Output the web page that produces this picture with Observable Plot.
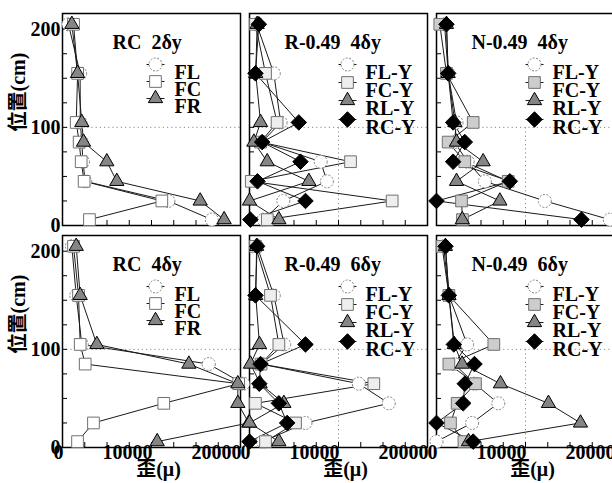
<!DOCTYPE html>
<html>
<head>
<meta charset="utf-8">
<script src="https://cdn.jsdelivr.net/npm/d3@7"></script>
<script src="https://cdn.jsdelivr.net/npm/@observablehq/plot@0.6"></script>
<style>
html, body { margin: 0; padding: 0; background: #fff; overflow: hidden; }
#chart { position: relative; width: 612px; height: 483px; overflow: hidden; }
svg text { white-space: pre; }
</style>
</head>
<body>
<div id="chart"></div>
<script>
// ---- data ----
const heights = [205, 155, 105, 85, 65, 45, 25, 6]; // cm
const xTicks = [0, 2500, 5000, 7500, 10000, 12500, 15000, 17500, 20000];
const xTickLabels = [0, 10000, 20000];
const yTicks = [0, 25, 50, 75, 100, 125, 150, 175, 200];
const yTickLabels = [0, 100, 200];
const gridX = [10000];
const gridY = [100];
const titles = ["RC  2δy", "R-0.49  4δy", "N-0.49  4δy", "RC  4δy", "R-0.49  6δy", "N-0.49  6δy"];
const rcLabels = ["FL", "FC", "FR"];
const yLabels = ["FL-Y", "FC-Y", "RL-Y", "RC-Y"];
const yTitle = "位置(cm)";
const xTitle = "歪(μ)";

// RC 2δy
const rc2FL = [670, 1980, 2000, 2170, 2300, 2550, 11900, 16780];
const rc2FC = [1240, 1700, 1540, 1870, 2100, 2430, 11160, 3030];
const rc2FR = [1050, 1690, 2170, 2360, 4980, 6100, 15470, 18160];
// R-0.49 4δy
const r4FLY = [800, 2730, 3500, 1400, 8000, 8700, 3800, 1600];
const r4FCY = [670, 1800, 3100, 1240, 11350, 200, 16030, 2000];
const r4RLY = [860, 700, 1240, 490, 1990, 6670, 0, 3300];
const r4RCY = [1050, 670, 5540, 1420, 5730, 900, 6290, 100];
// N-0.49 4δy
const n4FLY = [900, 1310, 2250, 2000, 3500, 5430, 12170, 19470];
const n4FCY = [370, 1120, 4120, 1310, 3180, 8050, 2810, 2920];
const n4RLY = [1120, 1310, 2060, 2250, 5240, 2250, 7120, 2900];
const n4RCY = [1120, 1310, 1870, 3180, 1870, 8240, 0, 16290];
// RC 4δy
const rc4FL = [1050, 1540, 2170, 16440, 20300, null, null, null];
const rc4FC = [1240, 1800, 1990, 2550, 19800, 11380, 3480, 1690];
const rc4FR = [1540, 1985, 3860, 14200, 19700, 19700, 20930, 10640];
// R-0.49 6δy
const r6FLY = [860, 2730, 3900, 1300, 12280, 15650, 6290, 1500];
const r6FCY = [670, 2360, 3300, 1300, 13970, 670, 5170, 1800];
const r6RLY = [800, 700, 1120, 110, 1200, 3860, 0, 3300];
const r6RCY = [860, 670, 6290, 1240, 1100, 3300, 4230, 0];
// N-0.49 6δy
const n6FLY = [800, 1400, 3440, 2000, 4300, 6940, 4000, 0];
const n6FCY = [630, 1390, 6440, 1390, 4380, 2320, 1570, 3080];
const n6RLY = [1000, 1400, 2000, 2880, 7190, 12580, 16180, 3600];
const n6RCY = [1010, 1390, 1950, 4270, 3180, 3000, 0, 4120];

// ---- build tables ----
const panels = [
  {col: 0, row: 0, kind: "RC", title: titles[0], series: [rc2FL, rc2FC, rc2FR]},
  {col: 1, row: 0, kind: "Y",  title: titles[1], series: [r4FLY, r4FCY, r4RLY, r4RCY]},
  {col: 2, row: 0, kind: "Y",  title: titles[2], series: [n4FLY, n4FCY, n4RLY, n4RCY]},
  {col: 0, row: 1, kind: "RC", title: titles[3], series: [rc4FL, rc4FC, rc4FR]},
  {col: 1, row: 1, kind: "Y",  title: titles[4], series: [r6FLY, r6FCY, r6RLY, r6RCY]},
  {col: 2, row: 1, kind: "Y",  title: titles[5], series: [n6FLY, n6FCY, n6RLY, n6RCY]}
];
const data = panels.flatMap(p => p.series.flatMap((vals, s) =>
  vals.map((v, i) => ({col: p.col, row: p.row, s, h: heights[i], v})).filter(d => d.v != null)));

const fcFill = ["#ffffff", "#eeeeee", "#cdcdcd"];
const symStyles = [
  {symbol: "circle", r: 6.5, fill: "#ffffff", stroke: "#808080", strokeDasharray: "2,1.5", strokeWidth: 1},
  {symbol: "square", r: 6.6, fill: d => fcFill[d.col], stroke: "#707070", strokeWidth: 1},
  {symbol: "triangle", r: 5.3, fill: "#858585", stroke: "#000000", strokeWidth: 1},
  {symbol: "diamond2", r: 7, fill: "#000000", stroke: "#000000", strokeWidth: 1}
];
const legendLine = {draw(ctx) { ctx.moveTo(-9, 0); ctx.lineTo(9, 0); }};

const F = {fx: "col", fy: "row"};
const txt = {fontSize: 20, fontWeight: "bold", fill: "#000", fontFamily: "'Liberation Serif','Noto Sans CJK JP',serif"};

const gridXData = panels.filter(p => p.kind === "Y").map(p => ({col: p.col, row: p.row, x: gridX[0]}));
const xLabelData = [0, 1, 2].flatMap(col => xTickLabels.map(v => ({col, row: 1, v})));
const yLabelData = [0, 1].flatMap(row => yTickLabels.map(v => ({col: 0, row, v})));
const yTitleData = [0, 1].map(row => ({col: 0, row}));
const xTitleData = [0, 1, 2].map(col => ({col, row: 1}));

const marks = [
  Plot.ruleY(gridY, {stroke: "#8a8a8a", strokeDasharray: "1.2,3"}),
  Plot.ruleX(gridXData, {x: "x", y1: 0, y2: gridY[0], ...F, stroke: "#8a8a8a", strokeDasharray: "1.2,3"}),
  Plot.ruleX(xTicks, {insetTop: 207, stroke: "#000", strokeWidth: 1}),
  Plot.ruleY(yTicks, {insetRight: 173, stroke: "#000", strokeWidth: 1}),
  Plot.frame({stroke: "#000", strokeWidth: 1.5}),
  Plot.line(data, {x: "v", y: "h", z: d => `${d.col}-${d.row}-${d.s}`, ...F, stroke: "#1a1a1a", strokeWidth: 1})
];
for (let s = 0; s < 4; s++) {
  marks.push(Plot.dot(data.filter(d => d.s === s), {x: "v", y: "h", ...F, ...symStyles[s]}));
}
// panel titles
marks.push(Plot.text(panels.filter(p => p.kind === "RC"), {...F, text: "title", frameAnchor: "top-left", textAnchor: "start", dx: 50, dy: 21, ...txt}));
marks.push(Plot.text(panels.filter(p => p.kind === "Y"), {...F, text: "title", frameAnchor: "top-left", textAnchor: "start", dx: 35, dy: 21, ...txt}));
// legends
const legendGroups = [
  {kind: "RC", labels: rcLabels, mx: 93, tx: 112, rows: [51, 68, 85]},
  {kind: "Y", labels: yLabels, mx: 98, tx: 116, rows: [51, 69, 87, 106]}
];
for (const g of legendGroups) {
  const gp = panels.filter(p => p.kind === g.kind);
  g.labels.forEach((lab, s) => {
    marks.push(Plot.dot(gp, {...F, frameAnchor: "top-left", dx: g.mx, dy: g.rows[s], symbol: legendLine, fill: "none", stroke: "#1a1a1a", strokeWidth: 1}));
    marks.push(Plot.dot(gp, {...F, frameAnchor: "top-left", dx: g.mx, dy: g.rows[s], ...symStyles[s]}));
    marks.push(Plot.text(gp, {...F, frameAnchor: "top-left", dx: g.tx, dy: g.rows[s], text: () => lab, textAnchor: "start", ...txt}));
  });
}
// axis labels
marks.push(Plot.text(xLabelData, {x: "v", ...F, text: d => String(d.v), frameAnchor: "bottom", textAnchor: "end", dx: 1, dy: 11, ...txt}));
marks.push(Plot.text(yLabelData, {y: "v", ...F, text: d => String(d.v), frameAnchor: "left", textAnchor: "end", dx: -2, ...txt}));
marks.push(Plot.text(yTitleData, {...F, text: () => yTitle, frameAnchor: "left", rotate: -90, dx: -44, dy: 12, ...txt}));
marks.push(Plot.text(xTitleData, {...F, text: () => xTitle, frameAnchor: "bottom", dx: 7, dy: 28, ...txt}));

const chart = Plot.plot({
  width: 614,
  height: 483,
  marginLeft: 62,
  marginRight: 0,
  marginTop: 13,
  marginBottom: 36,
  fx: {domain: [0, 1, 2], paddingInner: 9 / 187, paddingOuter: 0, axis: null},
  fy: {domain: [0, 1], paddingInner: 10 / 222, paddingOuter: 0, axis: null},
  x: {domain: [0, 20000], axis: null},
  y: {domain: [0, 216], axis: null},
  color: {type: "identity"},
  style: "max-width:none; background:#fff; overflow:visible; font-family:'Liberation Serif','Noto Sans CJK JP',serif; font-size:20px; font-weight:bold;",
  marks
});
document.getElementById("chart").appendChild(chart);
</script>
</body>
</html>
